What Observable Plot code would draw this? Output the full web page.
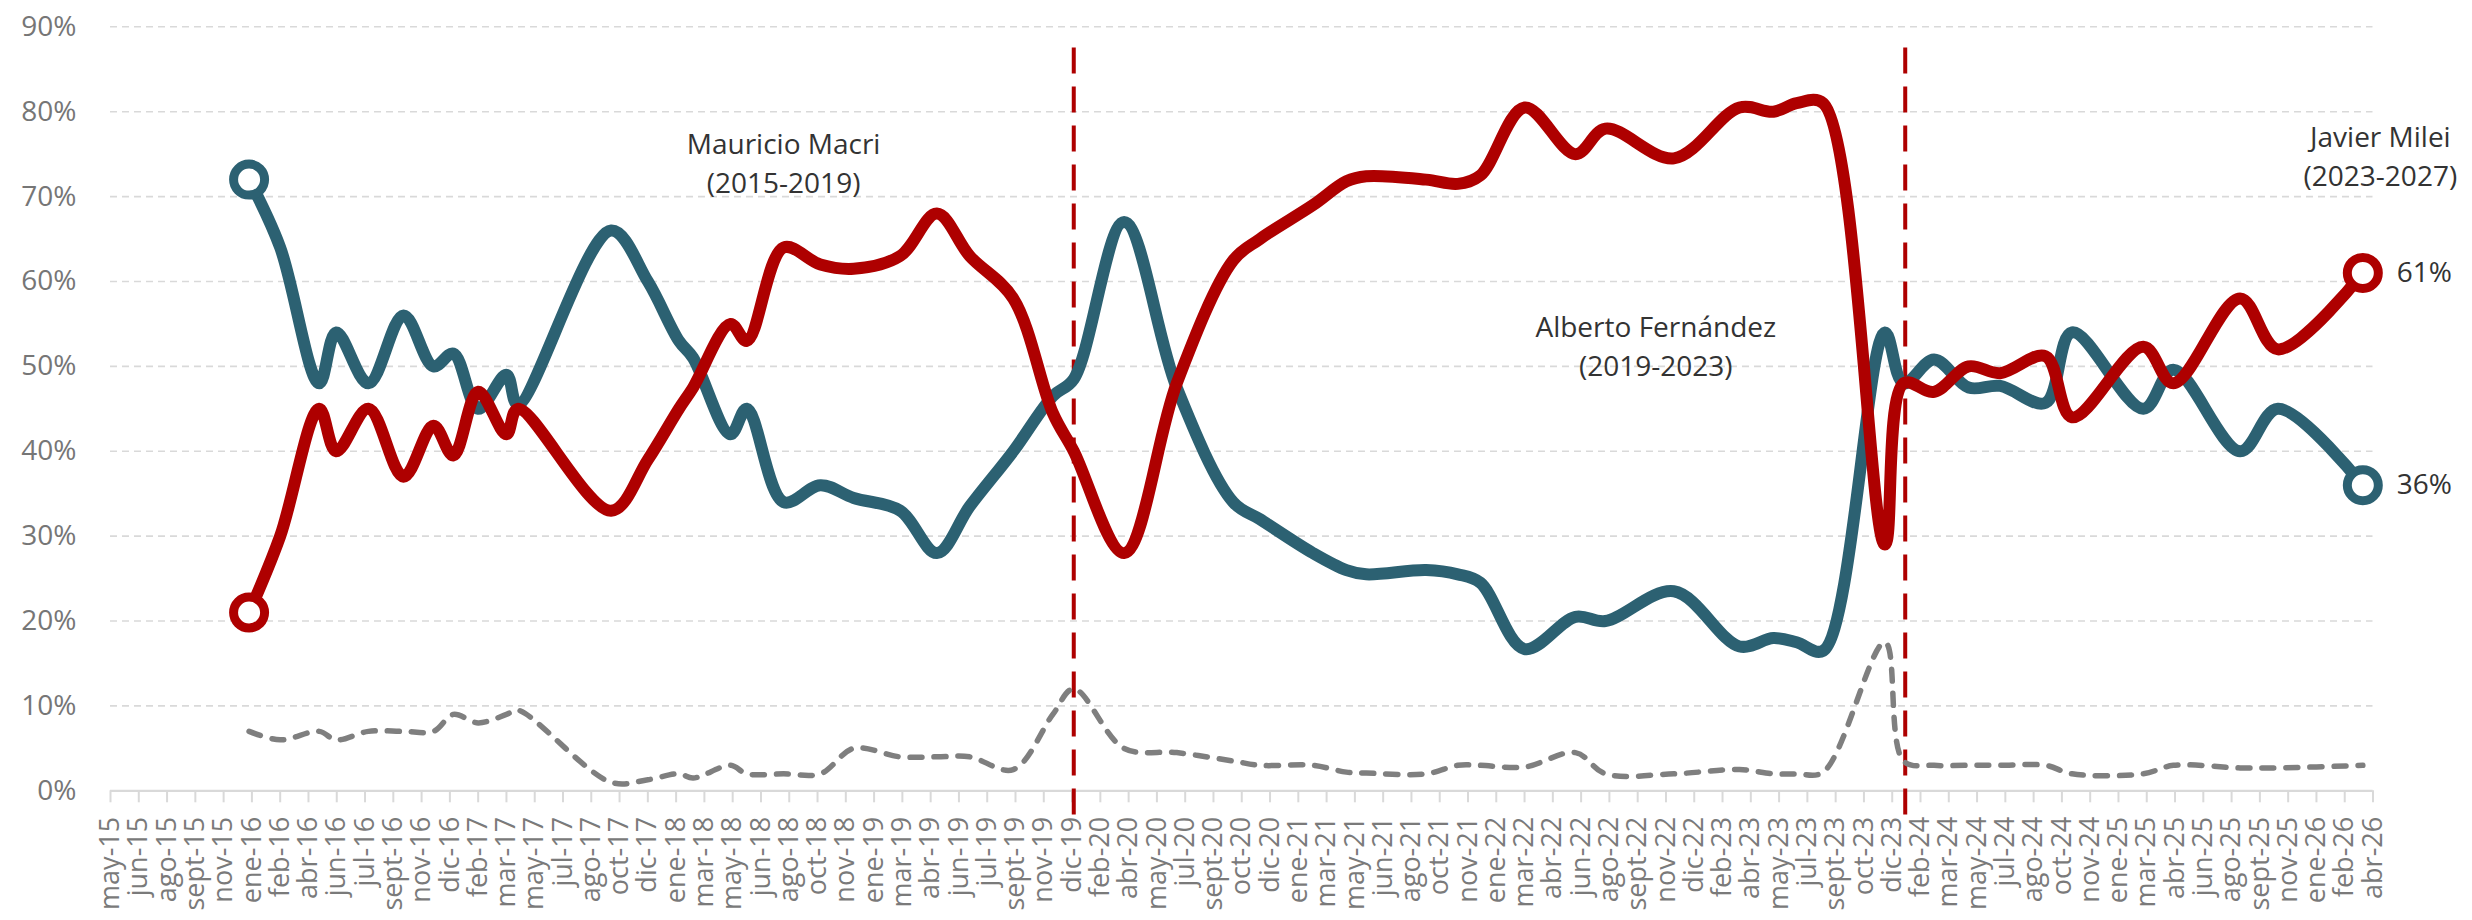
<!DOCTYPE html>
<html>
<head>
<meta charset="utf-8">
<script src="https://cdn.jsdelivr.net/npm/d3@7"></script>
<script src="https://cdn.jsdelivr.net/npm/@observablehq/plot@0.6"></script>
<style>
  html, body { margin: 0; padding: 0; background: #ffffff; }
  #chart svg { display: block; }
</style>
</head>
<body>
<div id="chart"></div>
<script>
// ---------- DATA ----------
const fechas = [
  "2016-01-01","2016-02-25","2016-05-04","2016-06-03","2016-07-30","2016-09-30","2016-11-22","2016-12-27",
  "2017-02-09","2017-03-31","2017-04-20","2017-10-02","2017-12-06",
  "2018-01-30","2018-02-24","2018-05-01","2018-05-30","2018-08-03","2018-10-07","2018-12-05",
  "2019-02-25","2019-05-01","2019-06-28","2019-09-13","2019-11-22","2019-12-29",
  "2020-03-27","2020-06-28","2020-10-06","2020-11-22",
  "2021-02-24","2021-04-24","2021-05-29","2021-09-12","2021-11-07","2021-12-17",
  "2022-03-05","2022-06-03","2022-07-26","2022-11-24",
  "2023-03-20","2023-05-19","2023-06-29","2023-08-15","2023-12-02",
  "2024-01-04","2024-02-27","2024-04-28","2024-06-23","2024-09-11","2024-10-28",
  "2025-03-03","2025-04-25","2025-08-21","2025-10-27","2026-03-26"
];
const aprobacion = [
  72, 64, 48, 54, 48, 56, 50, 51.5,
  45, 49, 45.5, 66, 60,
  53, 51, 42, 45, 34, 36, 34.5,
  33, 28, 33.5, 40, 46.5, 48.5,
  67, 47.5, 34, 32,
  28, 26, 25.5, 26, 25.5, 24.5,
  16.7, 20.5, 20, 23.5,
  17, 18, 17.5, 16.5, 54,
  48, 50.8, 47.5, 47.7, 45.7, 54,
  45, 49.6, 40, 45, 36
];
const desaprobacion = [
  21, 30, 45, 40, 45, 37, 43, 39.5,
  47, 42, 45, 33, 39,
  45, 47.5, 55, 53, 64, 62, 61.5,
  63, 68, 63, 58, 44.5, 40,
  28, 48, 62.5, 65,
  69, 71.8, 72.4, 72, 71.5, 72.5,
  80.5, 75, 78, 74.5,
  80.5, 80, 81, 81, 29,
  48, 47, 50, 49.2, 51.2, 44,
  52.3, 48, 58, 52, 61
];
const nsnc = [
  7, 6, 7, 6, 7, 7, 7, 9,
  8, 9, 9.5, 1, 1.3,
  2, 1.5, 3, 2, 2, 2, 5,
  4, 4, 4, 2.5, 9, 12,
  5, 4.5, 3.5, 3,
  3, 2.2, 2.1, 2, 3, 3,
  2.8, 4.5, 2, 2,
  2.5, 2, 2, 2.2, 17.5,
  3.5, 3, 3, 3, 3, 2,
  2, 3, 2.7, 2.7, 3
];

// x-axis: one label every 50 days from may-15
const tickLabels = [
  "may-15","jun-15","ago-15","sept-15","nov-15","ene-16","feb-16","abr-16","jun-16","jul-16",
  "sept-16","nov-16","dic-16","feb-17","mar-17","may-17","jul-17","ago-17","oct-17","dic-17",
  "ene-18","mar-18","may-18","jun-18","ago-18","oct-18","nov-18","ene-19","mar-19","abr-19",
  "jun-19","jul-19","sept-19","nov-19","dic-19","feb-20","abr-20","may-20","jul-20","sept-20",
  "oct-20","dic-20","ene-21","mar-21","may-21","jun-21","ago-21","oct-21","nov-21","ene-22",
  "mar-22","abr-22","jun-22","ago-22","sept-22","nov-22","dic-22","feb-23","abr-23","may-23",
  "jul-23","sept-23","oct-23","dic-23","feb-24","mar-24","may-24","jul-24","ago-24","oct-24",
  "nov-24","ene-25","mar-25","abr-25","jun-25","ago-25","sept-25","nov-25","ene-26","feb-26","abr-26"
];
const ejeInicio = "2015-05-01";
const ejeFin = "2026-04-13";
const diasEntreTicks = 50;
const yTicks = [0, 10, 20, 30, 40, 50, 60, 70, 80, 90];

// government changes (vertical dashed lines)
const cambiosGobierno = ["2019-12-29", "2024-01-07"];

// annotations
const anotFechas = ["2018-08-03", "2022-10-23", "2026-04-26"];
const anotValores = [74.2, 52.6, 75.0];
const anotTextos = ["Mauricio Macri\n(2015-2019)", "Alberto Fernández\n(2019-2023)", "Javier Milei\n(2023-2027)"];

// ---------- STYLE ----------
const TEAL = "#2C6172";
const RED = "#AE0000";
const GREY = "#7F7F7F";
const FONT = "'Open Sans', 'Noto Sans', sans-serif";

// ---------- BUILD ----------
const parse = d3.utcParse("%Y-%m-%d");
const rows = fechas.map((f, i) => ({
  fecha: parse(f),
  aprob: aprobacion[i],
  desap: desaprobacion[i],
  ns: nsnc[i]
}));
const inicio = parse(ejeInicio);
const tickDates = tickLabels.map((_, i) => d3.utcDay.offset(inicio, i * diasEntreTicks));
const labelByTime = new Map(tickDates.map((d, i) => [+d, tickLabels[i]]));

const ends = [rows[0], rows[rows.length - 1]];
const last = rows[rows.length - 1];
const lastLabels = [
  {fecha: last.fecha, v: last.desap, t: Math.round(last.desap) + "%"},
  {fecha: last.fecha, v: last.aprob, t: Math.round(last.aprob) + "%"}
];
const anot = anotFechas.map((f, i) => ({fecha: parse(f), v: anotValores[i], t: anotTextos[i]}));
const cambios = cambiosGobierno.map(parse);

const chart = Plot.plot({
  width: 2472,
  height: 920,
  marginLeft: 110,
  marginRight: 99.5,
  marginTop: 26.3,
  marginBottom: 129.7,
  style: {fontFamily: FONT, fontSize: "28px", background: "#ffffff", overflow: "visible"},
  x: {type: "utc", domain: [inicio, parse(ejeFin)], axis: null},
  y: {domain: [0, 90], axis: null},
  marks: [
    Plot.gridY(yTicks.slice(1), {stroke: "#D9D9D9", strokeOpacity: 1, strokeWidth: 1.6, strokeDasharray: "7,5"}),
    Plot.ruleY([0], {stroke: "#D9D9D9", strokeWidth: 2.2}),
    Plot.axisY(yTicks, {
      tickSize: 0, tickPadding: 34, fill: "#767676", fontSize: 28, fontFamily: FONT,
      tickFormat: d => d + "%", label: null
    }),
    Plot.axisX(tickDates, {
      tickSize: 12, tickPadding: 14, tickRotate: -90, stroke: "#D9D9D9", strokeWidth: 2,
      fill: "#7A7A7A", fontSize: 27, fontFamily: FONT, label: null,
      tickFormat: d => labelByTime.get(+d)
    }),
    Plot.ruleX(cambios, {y1: 87.5, y2: -3.8, stroke: RED, strokeWidth: 4, strokeDasharray: "26,13"}),
    Plot.line(rows, {x: "fecha", y: "ns", stroke: GREY, strokeWidth: 5.5, strokeDasharray: "12,12", strokeLinecap: "round", curve: "catmull-rom"}),
    Plot.line(rows, {x: "fecha", y: "aprob", stroke: TEAL, strokeWidth: 12, strokeLinejoin: "round", curve: "catmull-rom"}),
    Plot.line(rows, {x: "fecha", y: "desap", stroke: RED, strokeWidth: 12, strokeLinejoin: "round", curve: "catmull-rom"}),
    Plot.dot(ends, {x: "fecha", y: "aprob", r: 15.5, fill: "white", stroke: TEAL, strokeWidth: 9}),
    Plot.dot(ends, {x: "fecha", y: "desap", r: 15.5, fill: "white", stroke: RED, strokeWidth: 9}),
    Plot.text(lastLabels, {x: "fecha", y: "v", text: "t", dx: 34, textAnchor: "start", fill: "#333333", fontSize: 28, fontFamily: FONT}),
    Plot.text(anot, {x: "fecha", y: "v", text: "t", textAnchor: "middle", lineHeight: 1.4, fill: "#333333", fontSize: 28, fontFamily: FONT})
  ]
});
document.getElementById("chart").appendChild(chart);
</script>
</body>
</html>
